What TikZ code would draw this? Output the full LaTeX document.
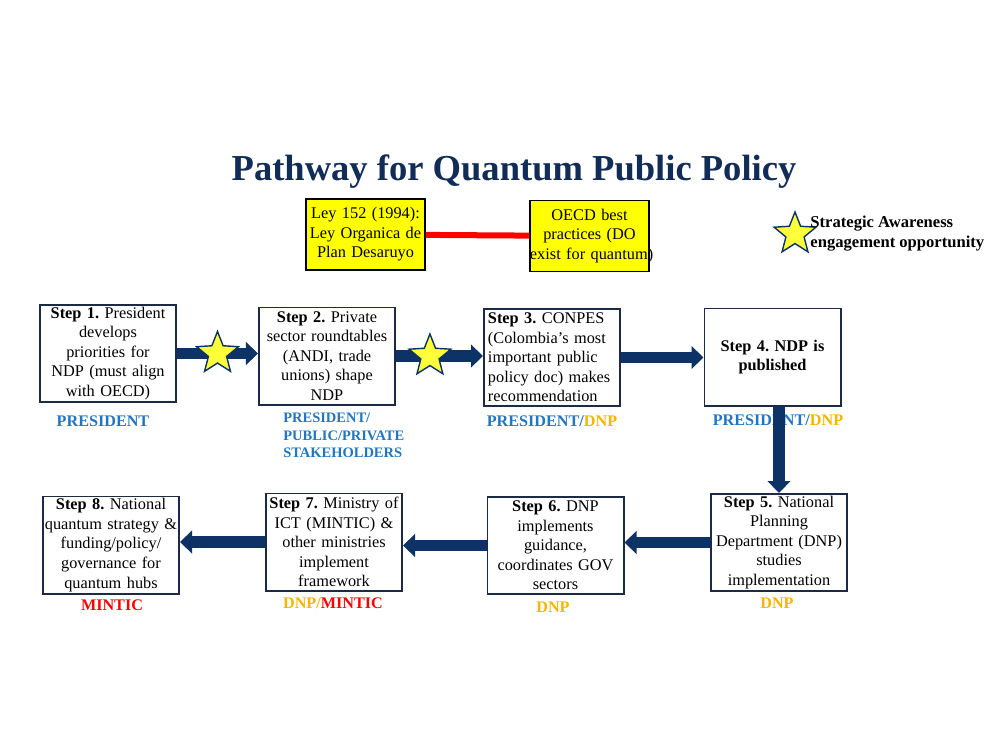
\documentclass[tikz,border=0pt]{standalone}
\usepackage{fontspec}
\setmainfont{Liberation Serif}
\usepackage{xcolor}
\usetikzlibrary{positioning, arrows.meta, shapes.geometric}
\definecolor{navy}{HTML}{0d3266}
\definecolor{deep}{HTML}{102c57}
\definecolor{ink}{HTML}{1c2a48}
\definecolor{sky}{HTML}{2176c1}
\definecolor{gold}{HTML}{f7b500}
\definecolor{alert}{HTML}{ff0000}
\definecolor{lemon}{HTML}{ffff00}
\definecolor{starfill}{HTML}{ffff3a}
\frenchspacing

\begin{document}
\begin{tikzpicture}[
  x=0.025cm, y=-0.025cm,
  stepbox/.style={rectangle, draw=ink, line width=1.4pt, fill=white,
              text width=3.4cm, minimum height=2.425cm, inner xsep=0pt, inner ysep=0pt,
              align=center, font=\fontsize{11.6}{13.9}\selectfont},
  lawbox/.style={stepbox, draw=black, line width=1pt, fill=lemon,
              text width=2.975cm, minimum height=1.775cm},
  who/.style={font=\fontsize{11.5}{13}\selectfont\bfseries, text=sky, inner sep=0pt},
  flow/.style={-{Triangle[length=0.3cm, width=0.56cm]}, line width=0.28cm, navy},
  award/.style={star, star points=5, star point ratio=2.3, draw=navy, line width=1pt,
              fill=starfill, minimum size=1.1cm, inner sep=0pt},
]
\fill[white] (0,0) rectangle (1000,750);
\useasboundingbox (0,0) rectangle (1000,750);

%% Title and legend
\node[font=\fontsize{26}{30}\selectfont\bfseries, text=deep] (title) at (514,172)
  {Pathway for Quantum Public Policy};
\node[award] (key) at (795,234) {};
\node[right=1pt of key, align=left, inner sep=0pt,
      font=\fontsize{11.8}{14.2}\selectfont\bfseries] (keytext)
  {Strategic Awareness\\engagement opportunity};

%% Legal framework
\node[lawbox] (ley)  at (365.5,234.5) {Ley 152 (1994):\\Ley Organica de\\Plan Desaruyo};
\node[lawbox] (oecd) at (589.5,236)   {OECD best\\practices (DO\\\mbox{exist for quantum)}};
\draw[alert, line width=0.15cm] (ley) -- (oecd);

%% Row 1
\node[stepbox] (s1) at (108,353.5) {\textbf{Step 1.} President\\develops\\priorities for\\NDP (must align\\with OECD)};
\node[stepbox] (s2) at (327,356) {\textbf{Step 2.} Private\\sector roundtables\\(ANDI, trade\\unions) shape\\NDP};
\node[stepbox, align=left, text width=3.2cm, inner xsep=0.1cm] (s3) at (552,357.5)
  {\textbf{Step 3.} CONPES\\(Colombia’s most\\important public\\policy doc) makes\\recommendation};
\node[stepbox, font=\fontsize{11.6}{13.9}\selectfont\bfseries] (s4) at (772.5,357) {Step 4. NDP is\\published};

%% Row 2
\node[stepbox] (s5) at (779,542.5) {\textbf{Step 5.} National\\Planning\\Department (DNP)\\studies\\implementation};
\node[stepbox] (s6) at (555.5,545.5) {\textbf{Step 6.} DNP\\implements\\guidance,\\coordinates GOV\\sectors};
\node[stepbox] (s7) at (334,542) {\textbf{Step 7.} Ministry of\\ICT (MINTIC) \&\\other ministries\\implement\\framework};
\node[stepbox] (s8) at (111,545) {\textbf{Step 8.} National\\quantum strategy \&\\funding/policy/\\governance for\\quantum hubs};

%% Who leads
\node[who] (w1) at (103,421) {PRESIDENT};
\node[who, anchor=north west, align=left, font=\fontsize{10.3}{12.4}\selectfont\bfseries] (w2) at (283,413)
  {PRESIDENT/\\PUBLIC/PRIVATE\\STAKEHOLDERS};
\node[who] (w3) at (552,421) {PRESIDENT/\textcolor{gold}{DNP}};
\node[who] (w4) at (778,420) {PRESIDENT/\textcolor{gold}{DNP}};
\node[who, text=gold] (w5) at (777,603) {DNP};
\node[who, text=gold] (w6) at (553,607) {DNP};
\node[who] (w7) at (333,603) {\textcolor{gold}{DNP/}\textcolor{alert}{MINTIC}};
\node[who, text=alert] (w8) at (112,605) {MINTIC};

%% Flow arrows
\draw[flow] (s1.east) -- (s1.east -| s2.west) node[award, pos=0.5] (k1) {};
\draw[flow] (s2.east) -- (s2.east -| s3.west) node[award, pos=0.39] (k2) {};
\draw[flow] (s3.east) -- (s3.east -| s4.west);
\draw[flow] (s5.north |- s4.south) -- (s5.north);
\draw[flow] (s5.west) -- (s5.west -| s6.east);
\draw[flow] (s6.west) -- (s6.west -| s7.east);
\draw[flow] (s7.west) -- (s7.west -| s8.east);

\end{tikzpicture}
\end{document}
